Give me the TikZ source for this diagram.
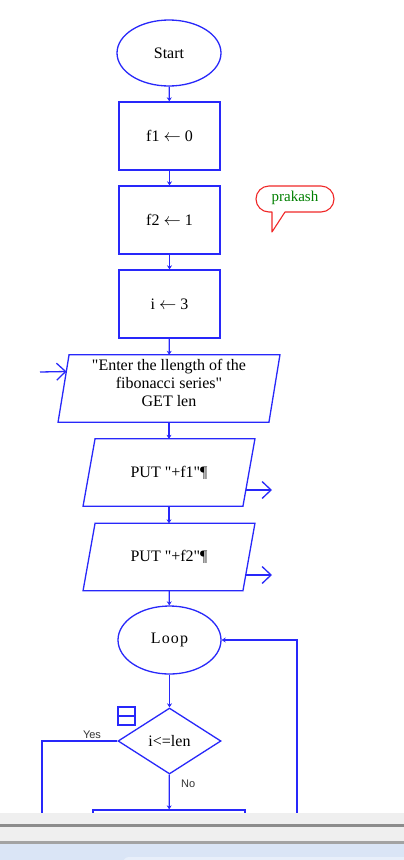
\documentclass[tikz,border=0pt]{standalone}
\usepackage{fontspec}
\setmainfont{Liberation Serif}[Ligatures=TeXOff]
\newfontfamily\yesnofont{Liberation Sans}
\usetikzlibrary{arrows.meta,shapes.geometric,calc}
\definecolor{fcblue}{RGB}{40,40,250}
\definecolor{bubred}{RGB}{240,40,40}
\definecolor{bubgreen}{RGB}{0,128,0}
\definecolor{chromegray}{RGB}{239,239,239}
\definecolor{chromeline}{RGB}{140,140,140}
\definecolor{chromeblue}{RGB}{218,229,246}
\definecolor{chromelight}{RGB}{232,239,250}
\tikzset{
  flow/.style={draw=fcblue, line width=1.3pt},
  termbox/.style={flow, ellipse, inner sep=0pt, font=\fontsize{16}{18}\selectfont},
  procbox/.style={flow, rectangle, inner sep=0pt, minimum width=101pt, minimum height=68pt, font=\fontsize{16}{18}\selectfont},
  iobox/.style={rectangle, inner sep=0pt, minimum height=67pt, font=\fontsize{16}{18}\selectfont, align=center},
  decbox/.style={flow, diamond, inner sep=0pt, minimum width=103pt, minimum height=66pt, font=\fontsize{16}{18}\selectfont},
  chain/.style={fcblue, line width=1.3pt, -{Stealth[length=4pt,width=5pt]}},
  openarr/.style={fcblue, line width=1.3pt, -{Straight Barb[length=9pt,width=17pt,line width=1.3pt]}},
  plainline/.style={fcblue, line width=1.3pt},
  lbl/.style={font=\yesnofont\fontsize{11}{12}\selectfont, text=black!80, inner sep=0pt}
}
\begin{document}
\begin{tikzpicture}[x=1pt,y=-1pt]
\useasboundingbox (0,0) rectangle (404,860);
\fill[white] (0,0) rectangle (404,860);

% nodes
\node[termbox, minimum width=104pt, minimum height=66pt] (start) at (169,53) {Start};
\node[procbox] (f1) at (169.5,136) {f1 $\leftarrow$ 0};
\node[procbox] (f2) at (169.5,220) {f2 $\leftarrow$ 1};
\node[procbox] (iv) at (169.5,304) {i $\leftarrow$ 3};
\node[iobox, minimum width=210.5pt] (inp) at (169,388.5) {};
\node[font=\fontsize{16}{18}\selectfont, align=center, inner sep=0pt] (inptxt) at (169,383) {"Enter the llength of the\\ fibonacci series"\\ GET len};
\node[iobox, minimum width=159.5pt] (p1) at (169,472.5) {PUT "+f1"¶};
\node[iobox, minimum width=159.5pt] (p2) at (169,557) {PUT "+f2"¶};
\node[termbox, minimum width=103pt, minimum height=68pt] (loop) at (169.5,640) {L\kern1.2pt o\kern1.2pt o\kern1.2pt p};
\node[decbox] (dec) at (169.5,741) {i<=len};
\node[flow, rectangle, minimum width=152pt, minimum height=70pt, inner sep=0pt] (nxt) at (169,845) {};
\node[flow, line width=1.2pt, rectangle, minimum width=17pt, minimum height=18pt, inner sep=0pt] (sym) at (126.5,716) {};
\draw[plainline, line width=1.2pt] (sym.west) -- (sym.east);

% parallelogram outlines
\foreach \n/\s in {inp/5.5, p1/6, p2/6}{
  \draw[flow, line join=miter] ([xshift=\s pt]\n.north west) -- ([xshift=\s pt]\n.north east)
     -- ([xshift=-\s pt]\n.south east) -- ([xshift=-\s pt]\n.south west) -- cycle;
}

% chain connectors
\draw[chain] (start) -- (f1);
\draw[chain] (f1) -- (f2);
\draw[chain] (f2) -- (iv);
\draw[chain] (iv) -- (inp);
\draw[chain] (inp) -- (p1);
\draw[chain] (p1) -- (p2);
\draw[chain] (p2) -- (loop);
\draw[chain] (loop) -- (dec);
\draw[chain] (dec) -- (nxt);

% side io arrows
\coordinate (inL) at (40,372);
\draw[openarr] (inL) -- ([shift={(3pt,17pt)}]inp.west);
\coordinate (o1) at (272,490);
\coordinate (o2) at (272,575);
\draw[openarr] ([shift={(-3pt,-17.5pt)}]p1.east) -- (o1);
\draw[openarr] ([shift={(-3pt,-18pt)}]p2.east) -- (o2);

% yes branch and loop back
\coordinate (yesend) at (42,860);
\draw[plainline] (dec.west) -| (yesend);
\coordinate (backend) at (297,860);
\draw[chain] (backend) |- (loop.east);

\node[lbl, anchor=base] (yes) at (92,738) {Yes};
\node[lbl, anchor=base west] (no) at (181,787) {No};

% speech bubble
\draw[bubred, line width=1.1pt, fill=white, line join=round]
  (285,212) -- (321,212) arc (90:-90:13) -- (269,186) arc (270:90:13) -- (272,212) -- (272,232) -- cycle;
\node[text=bubgreen, font=\fontsize{15}{17}\selectfont, inner sep=0pt] (bub) at (295,198) {prakash};

% window chrome at bottom
\fill[chromegray] (0,813) rectangle (404,845);
\fill[chromeline] (0,824) rectangle (404,826.5);
\fill[chromeline!80] (0,841) rectangle (404,843.5);
\fill[chromeblue] (0,844) rectangle (404,860);
\fill[chromelight, rounded corners=6pt] (123,857) rectangle (420,870);
\end{tikzpicture}
\end{document}
